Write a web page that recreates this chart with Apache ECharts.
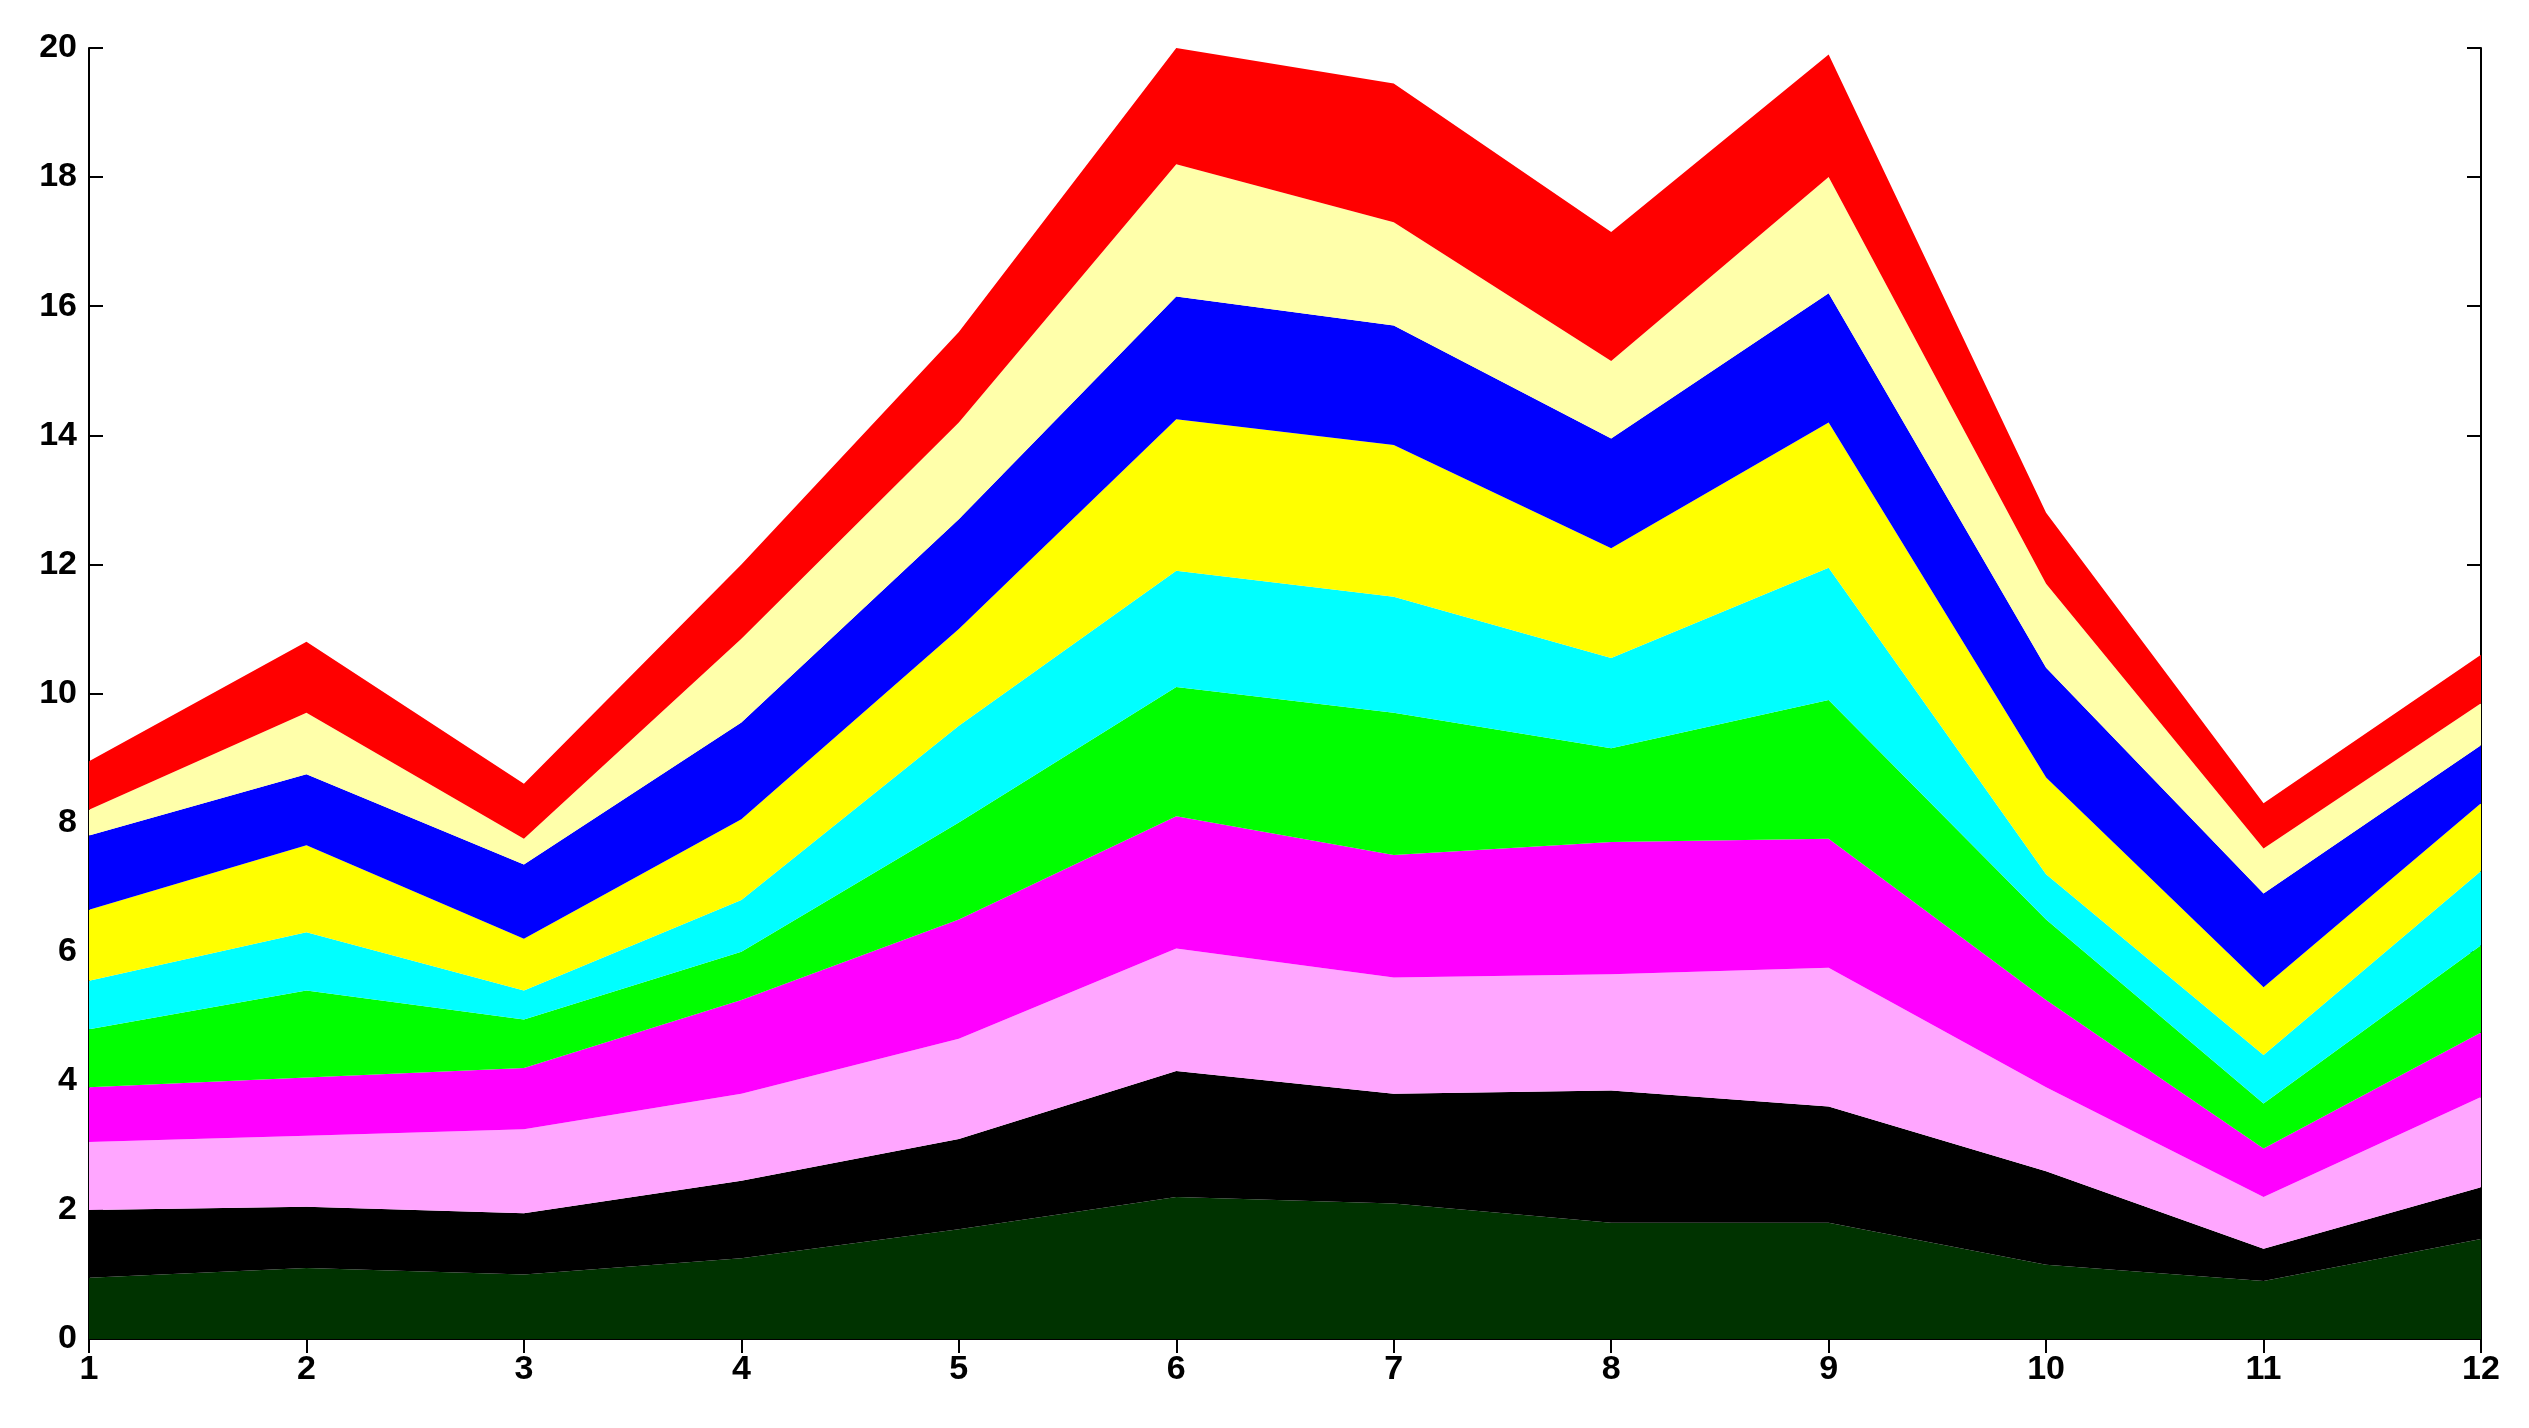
<!DOCTYPE html>
<html><head><meta charset="utf-8">
<script src="https://cdn.jsdelivr.net/npm/echarts@6/dist/echarts.min.js"></script>
<style>html,body{margin:0;background:#fff}#c{width:2529px;height:1428px}</style>
</head><body><div id="c"></div>
<script>
const categories = ['1','2','3','4','5','6','7','8','9','10','11','12'];
const darkGreen   = [0.95,1.1,1.0,1.25,1.7,2.2,2.1,1.8,1.8,1.15,0.9,1.55];
const black       = [1.05,0.95,0.95,1.2,1.4,1.95,1.7,2.05,1.8,1.45,0.5,0.8];
const pink        = [1.05,1.1,1.3,1.35,1.55,1.9,1.8,1.8,2.15,1.3,0.8,1.4];
const magenta     = [0.85,0.9,0.95,1.45,1.85,2.05,1.9,2.05,2.0,1.35,0.75,1.0];
const green       = [0.9,1.35,0.75,0.75,1.5,2.0,2.2,1.45,2.15,1.25,0.7,1.35];
const cyan        = [0.75,0.9,0.45,0.8,1.5,1.8,1.8,1.4,2.05,0.7,0.75,1.15];
const yellow      = [1.1,1.35,0.8,1.25,1.5,2.35,2.35,1.7,2.25,1.5,1.05,1.05];
const blue        = [1.15,1.1,1.15,1.5,1.7,1.9,1.85,1.7,2.0,1.7,1.45,0.9];
const lightYellow = [0.4,0.95,0.4,1.3,1.5,2.05,1.6,1.2,1.8,1.3,0.7,0.65];
const red         = [0.75,1.1,0.85,1.15,1.4,1.8,2.15,2.0,1.9,1.1,0.7,0.75];
const yTicks = [0,2,4,6,8,10,12,14,16,18,20];

const layers = [
  [darkGreen,'#003300'],[black,'#000000'],[pink,'#ffa6ff'],[magenta,'#ff00ff'],
  [green,'#00ff00'],[cyan,'#00ffff'],[yellow,'#ffff00'],[blue,'#0000ff'],
  [lightYellow,'#ffffaa'],[red,'#ff0000']
];
const font = {fontFamily:'Liberation Sans',fontWeight:'bold',fontSize:34,color:'#000'};
const line = {lineStyle:{color:'#000',width:2}};
const chart = echarts.init(document.getElementById('c'));
chart.setOption({
  animation:false,
  grid:{left:89,right:48,top:48,bottom:89},
  xAxis:[
    {type:'category',data:categories,boundaryGap:false,axisLine:line,
     axisTick:{inside:true,length:14,alignWithLabel:true,lineStyle:{color:'#000',width:2}},
     axisLabel:Object.assign({margin:14},font),splitLine:{show:false}},
    {type:'category',data:categories,boundaryGap:false,position:'top',axisLine:line,
     axisTick:{inside:true,length:14,lineStyle:{color:'#000',width:2}},axisLabel:{show:false}}
  ],
  yAxis:[
    {type:'value',min:0,max:20,interval:2,axisLine:{show:true,lineStyle:{color:'#000',width:2}},
     axisTick:{show:true,inside:true,length:14,lineStyle:{color:'#000',width:2}},
     axisLabel:Object.assign({margin:12,formatter:v=>yTicks.includes(v)?String(v):''},font),splitLine:{show:false}},
    {type:'value',min:0,max:20,interval:2,position:'right',axisLine:{show:true,lineStyle:{color:'#000',width:2}},
     axisTick:{show:true,inside:true,length:14,lineStyle:{color:'#000',width:2}},axisLabel:{show:false},splitLine:{show:false}}
  ],
  series:layers.map(([d,c],i)=>({type:'line',stack:'all',data:d,symbol:'none',
    lineStyle:{width:0},areaStyle:{color:c,opacity:1},z:2}))
});
</script></body></html>
